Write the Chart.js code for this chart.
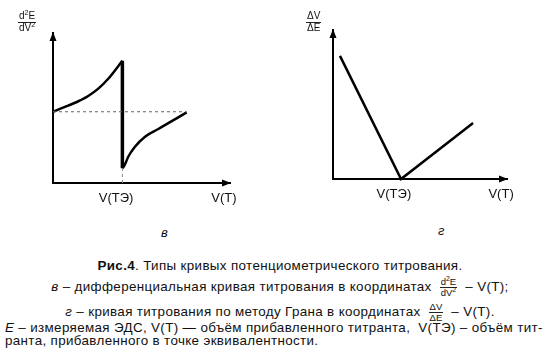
<!DOCTYPE html>
<html lang="ru">
<head>
<meta charset="utf-8">
<script src="https://cdn.jsdelivr.net/npm/chart.js@4.4.1/dist/chart.umd.min.js"></script>
<style>
  body { margin: 0; background: #fff; }
  #fig { position: relative; width: 553px; height: 358px; font-family: "Liberation Sans", Arial, sans-serif; color: #111; overflow: hidden; }
  canvas { position: absolute; top: 0; }
  .t { position: absolute; white-space: pre; font-size: 13.4px; line-height: 15px; letter-spacing: 0.35px; }
  .c { left: 0; width: 560px; text-align: center; }
  .frac { display: inline-block; vertical-align: middle; text-align: center; font-size: 9.5px; line-height: 9px; margin: 0 4px; letter-spacing: 0; }
  .frac span { display: block; }
  .frac .num { border-bottom: 1px solid #222; padding: 0 1px 1px; }
  .frac sup { font-size: 7px; line-height: 0; }
  .ax .frac { font-size: 10px; line-height: 10px; margin: 0; }
  .ax { position: absolute; }
</style>
</head>
<body>
<div id="fig">
  <canvas id="chartV" width="250" height="215" style="left:0"></canvas>
  <canvas id="chartG" width="273" height="215" style="left:280px"></canvas>

  <div class="ax" style="left:18px; top:11px;"><span class="frac"><span class="num">d<sup>2</sup>E</span><span>dV<sup>2</sup></span></span></div>
  <div class="ax" style="left:306px; top:11px;"><span class="frac"><span class="num">ΔV</span><span>ΔE</span></span></div>

  <div class="t" style="left:161px; top:225px; font-style:italic; font-size:13px;">в</div>
  <div class="t" style="left:438px; top:223px; font-style:italic; font-size:13px;">г</div>

  <div class="t c" style="top:258px;"><b>Рис.4</b>. Типы кривых потенциометрического титрования.</div>
  <div class="t c" style="top:277px;"><i>в</i> – дифференциальная кривая титрования в координатах <span class="frac"><span class="num">d<sup>2</sup>E</span><span>dV<sup>2</sup></span></span> – V(Т);</div>
  <div class="t c" style="top:302px;"><i>г</i> – кривая титрования по методу Грана в координатах <span class="frac"><span class="num">ΔV</span><span>ΔE</span></span> – V(Т).</div>
  <div class="t" style="left:5px; top:320px;"><i>Е</i> – измеряемая ЭДС, V(Т) — объём прибавленного титранта,  V(ТЭ) – объём тит-</div>
  <div class="t" style="left:5px; top:333px;">ранта, прибавленного в точке эквивалентности.</div>
</div>
<script>
// common axis range (arbitrary units, no numbers shown)
var xMax = 10, yMax = 10;
var tickLabels = ['V(ТЭ)', 'V(Т)'];

// в : d2E/dV2 - V(T)
var vRiseX = [0, 0.68, 1.43, 1.99, 2.56, 3.12, 3.92];
var vRiseY = [4.75, 5.07, 5.45, 5.8, 6.29, 6.95, 8.15];
var vJumpX = [3.92, 3.92];
var vJumpY = [8.15, 0.98];
var vFallX = [3.92, 4.05, 4.25, 4.63, 5.2, 5.95, 6.71, 7.55];
var vFallY = [0.98, 1.2, 1.75, 2.42, 3.09, 3.6, 4.12, 4.71];
var vBaseY = 4.75;
var vEqX = 3.92;
var vTickX = [3.56, 9.66];

// г : Gran plot dV/dE - V(T)
var gX = [0.4, 3.91, 8.05];
var gY = [8.26, 0, 3.76];
var gTickX = [3.5, 9.66];

function pts(xs, ys) {
  return xs.map(function(x, i){ return {x: x, y: ys[i]}; });
}

var arrows = {
  id: 'arrows',
  afterDraw: function(chart) {
    var ctx = chart.ctx, a = chart.chartArea;
    ctx.save();
    ctx.fillStyle = '#000';
    ctx.beginPath();
    ctx.moveTo(a.right + 1, a.bottom);
    ctx.lineTo(a.right - 8, a.bottom - 3.5);
    ctx.lineTo(a.right - 8, a.bottom + 3.5);
    ctx.closePath();
    ctx.fill();
    ctx.beginPath();
    ctx.moveTo(a.left, a.top - 1);
    ctx.lineTo(a.left - 3.5, a.top + 8);
    ctx.lineTo(a.left + 3.5, a.top + 8);
    ctx.closePath();
    ctx.fill();
    ctx.restore();
  }
};

function makeOptions(tickX, pad, xHeight) {
  return {
    responsive: false,
    animation: false,
    layout: { padding: pad },
    plugins: { legend: { display: false }, tooltip: { enabled: false } },
    elements: { point: { radius: 0 } },
    scales: {
      x: {
        type: 'linear', min: 0, max: xMax,
        grid: { display: false, drawTicks: false },
        border: { display: true, color: '#000', width: 2 },
        afterBuildTicks: function(s) { s.ticks = tickX.map(function(v){ return {value: v}; }); },
        afterFit: function(s) { s.height = xHeight; },
        ticks: {
          padding: 8, color: '#111', maxRotation: 0, autoSkip: false,
          font: { family: '"Liberation Sans", Arial, sans-serif', size: 13 },
          callback: function(v, i) { return tickLabels[i]; }
        }
      },
      y: {
        type: 'linear', min: 0, max: yMax,
        grid: { display: false, drawTicks: false },
        border: { display: true, color: '#000', width: 2 },
        ticks: { display: false }
      }
    }
  };
}

var curve = { showLine: true, fill: false, borderColor: '#000', borderWidth: 2.5, cubicInterpolationMode: 'monotone', clip: false };

new Chart(document.getElementById('chartV'), {
  type: 'scatter',
  data: {
    datasets: [
      { data: [{x: 0, y: vBaseY}, {x: vFallX[vFallX.length - 1], y: vBaseY}], showLine: true, borderColor: '#666', borderWidth: 1, borderDash: [3, 3] },
      { data: [{x: vEqX, y: 0}, {x: vEqX, y: vJumpY[1]}], showLine: true, borderColor: '#888', borderWidth: 1, borderDash: [3, 3] },
      Object.assign({ data: pts(vRiseX, vRiseY) }, curve),
      Object.assign({ data: pts(vJumpX, vJumpY) }, curve, { borderWidth: 3.5, cubicInterpolationMode: 'default', tension: 0 }),
      Object.assign({ data: pts(vFallX, vFallY) }, curve)
    ]
  },
  options: makeOptions(vTickX, { left: 53, top: 33, right: 20, bottom: 0 }, 32),
  plugins: [arrows]
});

new Chart(document.getElementById('chartG'), {
  type: 'scatter',
  data: {
    datasets: [
      Object.assign({ data: pts(gX, gY) }, curve, { cubicInterpolationMode: 'default', tension: 0 })
    ]
  },
  options: makeOptions(gTickX, { left: 53, top: 30, right: 46, bottom: 0 }, 36),
  plugins: [arrows]
});
</script>
</body>
</html>
